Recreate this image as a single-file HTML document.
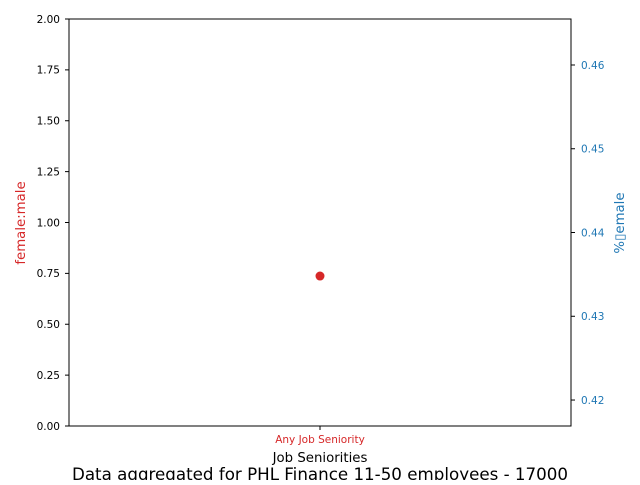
<!DOCTYPE html>
<html><head><meta charset="utf-8"><style>
body{margin:0;background:#fff;}
svg text{font-family:"DejaVu Sans","Liberation Sans",sans-serif;}
</style></head><body>
<svg width="640" height="480" viewBox="0 0 640 480">
<g id="g"></g>
</svg>
<script>
const categories=["Any Job Seniority"];
const ratioValues=[0.737];
const leftTicks=[0,0.25,0.5,0.75,1.0,1.25,1.5,1.75,2.0];
const rightTicks=[0.42,0.43,0.44,0.45,0.46];
const X0=69,X1=571,Y0=19,Y1=426;
const yL=v=>Y1-(v-0)/(2-0)*(Y1-Y0);
const rMin=0.41690,rMax=0.46549;
const yR=v=>Y1-(v-rMin)/(rMax-rMin)*(Y1-Y0);
const xC=i=>X0+(i+0.5)/categories.length*(X1-X0);
const NS="http://www.w3.org/2000/svg";
const g=document.getElementById('g');
function el(t,a,txt){const e=document.createElementNS(NS,t);for(const k in a)e.setAttribute(k,a[k]);if(txt!=null)e.textContent=txt;g.appendChild(e);return e;}
let f=el('rect',{x:X0,y:Y0,width:X1-X0,height:Y1-Y0,fill:'none',stroke:'#000','stroke-width':1});


leftTicks.forEach(v=>{const y=yL(v);
 let l=el('line',{x1:X0-4,x2:X0,y1:y,y2:y,stroke:'#000'});
 
 
 let t=el('text',{x:X0-9,y:y+3.8,'font-size':10.5,'text-anchor':'end',fill:'#000'},v.toFixed(2));
 
 
});
rightTicks.forEach(v=>{const y=yR(v);
 let l=el('line',{x1:X1,x2:X1+4,y1:y,y2:y,stroke:'#000'});
 
 
 let t=el('text',{x:X1+10,y:y+3.8,'font-size':10.5,fill:'#1f77b4'},v.toFixed(2));
 
 
});
categories.forEach((c,i)=>{const x=xC(i);
 let l=el('line',{x1:x,x2:x,y1:Y1,y2:Y1+4,stroke:'#000'});
 
 
 let t=el('text',{x:x,y:Y1+17,'font-size':10.5,'text-anchor':'middle',fill:'#d62728'},c);
 
 
 let p=el('circle',{cx:x,cy:yL(ratioValues[i]),r:4.5,fill:'#d62728'});
 
 
});
let xt=el('text',{x:320,y:462,'font-size':13.3,'text-anchor':'middle',fill:'#000'},'Job Seniorities');


let yt=el('text',{x:25,y:223,'font-size':13.3,'text-anchor':'middle',fill:'#d62728',transform:'rotate(-90 25 223)'},'female:male');


let rt=el('text',{x:624,y:223,'font-size':13.3,'text-anchor':'middle',fill:'#1f77b4',transform:'rotate(-90 624 223)'},'%\u25AFemale');


let ti=el('text',{x:320,y:480,'font-size':16.7,'text-anchor':'middle',fill:'#000'},'Data aggregated for PHL Finance 11-50 employees - 17000');


</script>
</body></html>
